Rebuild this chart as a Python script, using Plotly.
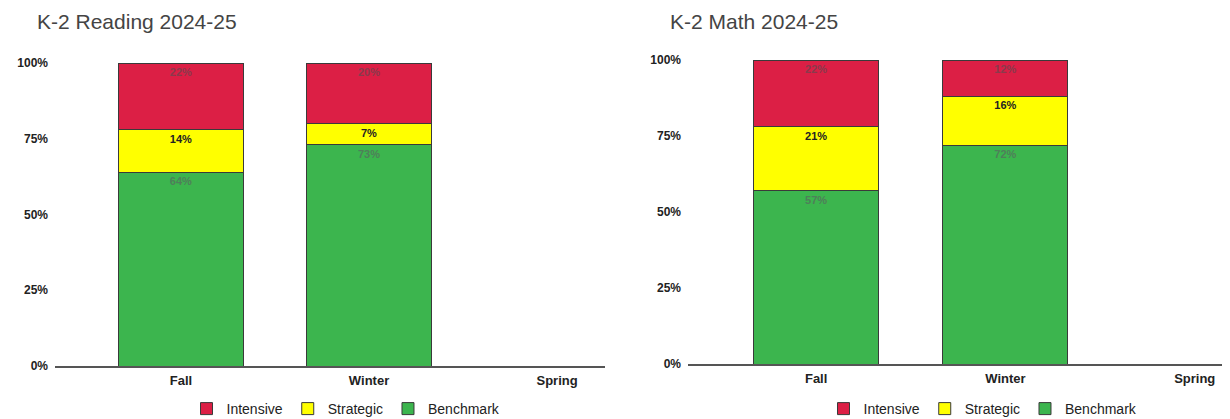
import plotly.graph_objects as go

seasons = ["Fall", "Winter", "Spring"]
reading_intensive = [22, 20, None]
reading_strategic = [14, 7, None]
reading_benchmark = [64, 73, None]
math_intensive = [22, 12, None]
math_strategic = [21, 16, None]
math_benchmark = [57, 72, None]
y_ticks = [0, 25, 50, 75, 100]
y_tick_labels = ["0%", "25%", "50%", "75%", "100%"]
titles = ["K-2 Reading 2024-25", "K-2 Math 2024-25"]

RED = "#dc1f45"
YEL = "#ffff00"
GRN = "#3cb54e"
FONT = "Liberation Sans, Arial, sans-serif"

# page body has an 8px margin; size the figure to fill the window
W, H, OFF = 1222, 411, 8
def px(x):
    return (x - OFF) / W
def py(y):
    return 1 - (y - OFF) / H

fig = go.Figure()

def add_chart(bench, strat, inten, xa, ya, leg):
    for name, vals, col, tcol in [
        ("Benchmark", bench, GRN, "#4f7f5a"),
        ("Strategic", strat, YEL, "#222222"),
        ("Intensive", inten, RED, "#8a3a4c"),
    ]:
        fig.add_trace(go.Bar(
            x=seasons, y=vals, name=name, xaxis=xa, yaxis=ya,
            marker=dict(color=col, line=dict(color="#3a3a3a", width=1)),
            width=0.66,
            text=[f"{v}%" if v is not None else "" for v in vals],
            textposition="inside", insidetextanchor="end",
            textangle=0, constraintext="none",
            textfont=dict(family=FONT, size=11, color=tcol, weight="bold"),
            legend=leg, showlegend=True, cliponaxis=False,
        ))

add_chart(reading_benchmark, reading_strategic, reading_intensive, "x", "y", "legend")
add_chart(math_benchmark, math_strategic, math_intensive, "x2", "y2", "legend2")

axis_font = dict(family=FONT, size=12, color="#222222", weight="bold")
common_x = dict(showgrid=False, showline=True, linecolor="#555555", linewidth=1.5,
                ticks="", tickfont=dict(family=FONT, size=13, color="#222222", weight="bold"),
                zeroline=False, fixedrange=True, ticklabelstandoff=2)
common_y = dict(range=[0, 100], tickmode="array", tickvals=y_ticks, ticktext=y_tick_labels,
                showgrid=False, zeroline=False, showline=False, tickfont=axis_font,
                ticklabelstandoff=6)

leg_common = dict(orientation="h", yanchor="middle", traceorder="reversed",
                  font=dict(family=FONT, size=14, color="#222222"), itemwidth=30,
                  bgcolor="rgba(0,0,0,0)")

fig.update_layout(
    width=W, height=H,
    margin=dict(l=0, r=0, t=0, b=0, autoexpand=False),
    paper_bgcolor="white", plot_bgcolor="white",
    barmode="stack",
    font=dict(family=FONT),
    xaxis=dict(domain=[px(55), px(605)], range=[-0.67, 2.255], anchor="y", **common_x),
    yaxis=dict(domain=[py(366), py(63)], anchor="x", **common_y),
    xaxis2=dict(domain=[px(688), min(1.0, px(1225))], range=[-0.677, 2.16], anchor="y2", **common_x),
    yaxis2=dict(domain=[py(364), py(60)], anchor="x2", **common_y),
    legend=dict(x=px(346), y=py(409), xanchor="center", **leg_common),
    legend2=dict(x=px(983), y=py(409), xanchor="center", **leg_common),
    annotations=[
        dict(text=titles[0], x=px(35), y=1.0, xref="paper", yref="paper",
             xanchor="left", yanchor="top", showarrow=False,
             font=dict(family=FONT, size=21, color="#444444")),
        dict(text=titles[1], x=px(668), y=1.0, xref="paper", yref="paper",
             xanchor="left", yanchor="top", showarrow=False,
             font=dict(family=FONT, size=21, color="#444444")),
    ],
)

fig.write_html("out.html")
